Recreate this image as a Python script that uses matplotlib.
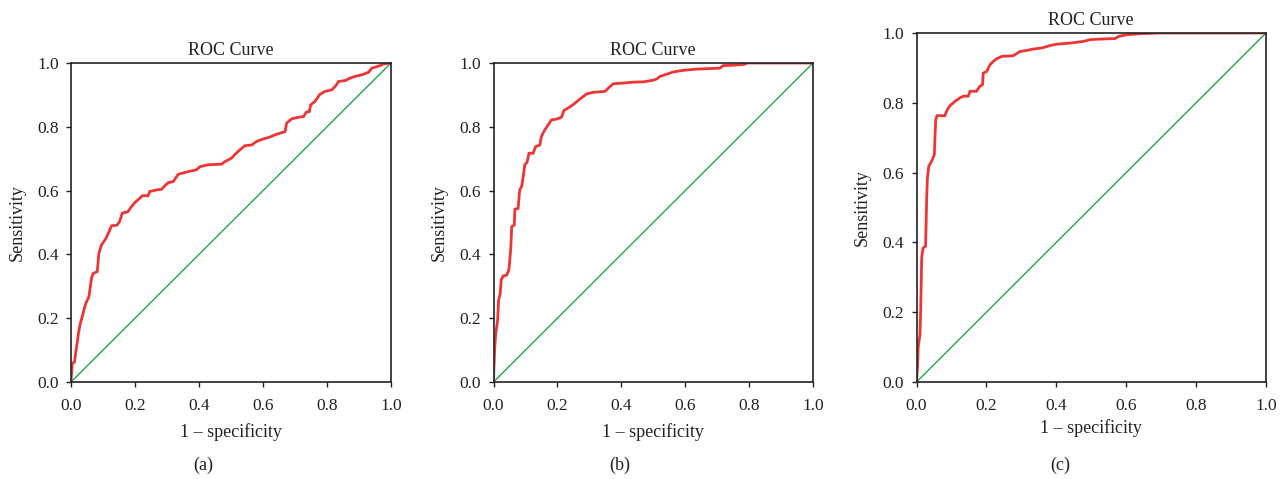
import matplotlib.pyplot as plt

plt.rcParams['font.family'] = ['Liberation Serif', 'DejaVu Serif']

# ROC points (1 - specificity, sensitivity)
fpr_a = [0, 0.004, 0.011, 0.015, 0.019, 0.024, 0.029, 0.035, 0.043, 0.048, 0.056, 0.064,
         0.069, 0.082, 0.087, 0.095, 0.109, 0.121, 0.126, 0.144, 0.152, 0.16, 0.178, 0.189,
         0.199, 0.215, 0.223, 0.241, 0.246, 0.267, 0.283, 0.293, 0.304, 0.319, 0.335, 0.356,
         0.377, 0.392, 0.403, 0.429, 0.471, 0.481, 0.502, 0.516, 0.528, 0.544, 0.565, 0.58,
         0.601, 0.622, 0.638, 0.653, 0.669, 0.674, 0.69, 0.711, 0.727, 0.735, 0.745, 0.749,
         0.763, 0.777, 0.794, 0.815, 0.826, 0.836, 0.857, 0.873, 0.888, 0.909, 0.93, 0.94,
         0.961, 0.977, 1.0]
tpr_a = [0, 0.058, 0.063, 0.094, 0.12, 0.157, 0.183, 0.204, 0.236, 0.251, 0.267, 0.325,
         0.34, 0.346, 0.403, 0.429, 0.45, 0.476, 0.489, 0.492, 0.503, 0.529, 0.534, 0.55,
         0.562, 0.576, 0.584, 0.584, 0.597, 0.602, 0.604, 0.615, 0.625, 0.628, 0.651, 0.657,
         0.662, 0.665, 0.675, 0.681, 0.683, 0.691, 0.702, 0.717, 0.728, 0.741, 0.743, 0.754,
         0.762, 0.768, 0.775, 0.78, 0.785, 0.812, 0.825, 0.83, 0.832, 0.846, 0.848, 0.869,
         0.88, 0.901, 0.911, 0.916, 0.927, 0.942, 0.945, 0.953, 0.958, 0.963, 0.971, 0.984,
         0.99, 0.997, 1.0]

fpr_b = [0, 0.001, 0.004, 0.007, 0.013, 0.016, 0.021, 0.024, 0.03, 0.041, 0.048, 0.051,
         0.054, 0.057, 0.065, 0.067, 0.077, 0.082, 0.088, 0.093, 0.098, 0.105, 0.111, 0.124,
         0.132, 0.145, 0.15, 0.161, 0.171, 0.182, 0.197, 0.213, 0.22, 0.234, 0.244, 0.255,
         0.268, 0.281, 0.291, 0.312, 0.349, 0.359, 0.375, 0.406, 0.438, 0.469, 0.5, 0.511,
         0.521, 0.542, 0.563, 0.594, 0.636, 0.667, 0.709, 0.719, 0.751, 0.787, 0.792, 1.0]
tpr_b = [0, 0.037, 0.11, 0.152, 0.194, 0.257, 0.277, 0.319, 0.332, 0.335, 0.351, 0.382,
         0.419, 0.487, 0.492, 0.542, 0.544, 0.602, 0.613, 0.644, 0.681, 0.689, 0.717, 0.717,
         0.738, 0.743, 0.77, 0.791, 0.806, 0.822, 0.824, 0.83, 0.851, 0.859, 0.866, 0.874,
         0.885, 0.895, 0.903, 0.908, 0.911, 0.921, 0.935, 0.937, 0.94, 0.941, 0.946, 0.95,
         0.958, 0.965, 0.972, 0.977, 0.981, 0.982, 0.984, 0.992, 0.993, 0.996, 1.0, 1.0]

fpr_c = [0, 0.003, 0.005, 0.01, 0.012, 0.015, 0.019, 0.026, 0.029, 0.031, 0.035, 0.043,
         0.051, 0.053, 0.055, 0.059, 0.081, 0.088, 0.096, 0.11, 0.124, 0.134, 0.148, 0.153,
         0.172, 0.181, 0.189, 0.191, 0.201, 0.21, 0.22, 0.229, 0.244, 0.277, 0.296, 0.315,
         0.334, 0.358, 0.382, 0.401, 0.439, 0.478, 0.497, 0.535, 0.568, 0.578, 0.602, 0.64,
         0.697, 1.0]
tpr_c = [0, 0.045, 0.102, 0.136, 0.207, 0.36, 0.384, 0.389, 0.522, 0.58, 0.618, 0.632,
         0.651, 0.704, 0.752, 0.763, 0.763, 0.78, 0.792, 0.804, 0.814, 0.819, 0.819, 0.833,
         0.833, 0.847, 0.852, 0.885, 0.89, 0.909, 0.919, 0.926, 0.933, 0.935, 0.947, 0.95,
         0.954, 0.957, 0.964, 0.968, 0.971, 0.976, 0.981, 0.983, 0.984, 0.99, 0.995, 0.998,
         1.0, 1.0]

panels = [(fpr_a, tpr_a, '(a)'), (fpr_b, tpr_b, '(b)'), (fpr_c, tpr_c, '(c)')]
ticks = [0.0, 0.2, 0.4, 0.6, 0.8, 1.0]

W, H = 1285, 479
fig = plt.figure(figsize=(W / 100, H / 100), dpi=100)

# axes boxes in pixels: left, right, top, bottom
boxes = [(71, 391, 63, 382), (493.5, 813, 63, 382), (916.5, 1266, 33, 382)]
sub_x = [203, 620, 1060]
xlab_y = [432, 432, 428]
col = '#222222'

for (fpr, tpr, tag), (l, r, t, b), sx, xy in zip(panels, boxes, sub_x, xlab_y):
    w, h = r - l, b - t
    ax = fig.add_axes([l / W, 1 - b / H, w / W, h / H])
    ax.plot([0, 1], [0, 1], color='#1fa64f', lw=1.0)
    ax.plot(fpr, tpr, color='#ee3535', lw=2.0, solid_joinstyle='miter')
    ax.set_xlim(0, 1)
    ax.set_ylim(0, 1)
    ax.set_xticks(ticks)
    ax.set_yticks(ticks)
    ax.set_xticklabels([f'{v:.1f}' for v in ticks])
    ax.set_yticklabels([f'{v:.1f}' for v in ticks])
    ax.tick_params(direction='out', length=3.3, width=1, labelsize=12.5, colors=col)
    ax.tick_params(axis='x', pad=8)
    ax.tick_params(axis='y', pad=5.5)
    for s in ax.spines.values():
        s.set_color(col)
        s.set_linewidth(1.2)
    ax.set_title('ROC Curve', fontsize=13, color=col, pad=6)
    ax.set_xlabel('1 – specificity', fontsize=13, color=col)
    ax.set_ylabel('Sensitivity', fontsize=13, color=col)
    ax.xaxis.set_label_coords(0.5, -(xy - b) / h)
    ax.yaxis.set_label_coords(-54 / w, 0.5)
    ax.xaxis.label.set_va('center')
    ax.yaxis.label.set_va('center')
    fig.text(sx / W, 1 - 465 / H, tag, ha='center', va='center',
             fontsize=13, color=col)

fig.savefig('out.png', dpi=100)
